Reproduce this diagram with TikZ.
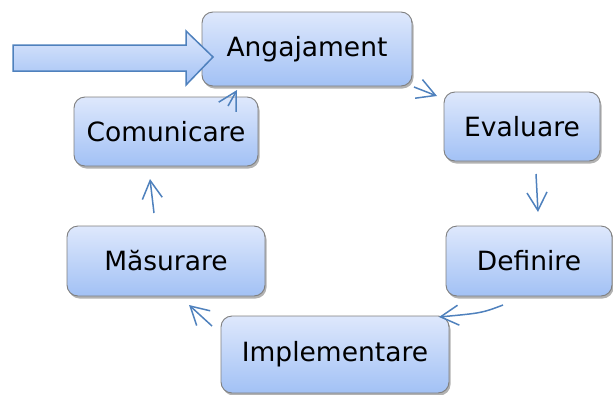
\documentclass[tikz,border=0pt]{standalone}
\usepackage{fontspec}
\setmainfont{DejaVu Sans}
\usetikzlibrary{arrows.meta,shadows}
\definecolor{boxtop}{HTML}{DEE8FC}
\definecolor{boxbot}{HTML}{A2C1F5}
\definecolor{boxline}{HTML}{7F7F7F}
\definecolor{flow}{HTML}{4F81BD}
\begin{document}
\begin{tikzpicture}[x=1pt,y=-1pt,
  stepbox/.style={draw=boxline, line width=0.9pt, rounded corners=11pt,
    top color=boxtop, bottom color=boxbot, inner sep=0pt,
    font=\fontsize{26.5}{32}\selectfont,
    drop shadow={shadow xshift=1.5pt, shadow yshift=-2.5pt, opacity=0.3, fill=black}},
  link/.style={draw=flow, line width=1.5pt,
    -{Straight Barb[length=18pt,width=20pt,line width=1.5pt]}}]
  \useasboundingbox (0,0) rectangle (613,394);

  % process steps
  \node[stepbox, minimum width=210, minimum height=74] (ang) at (307,49) {Angajament};
  \node[stepbox, minimum width=156, minimum height=69] (eva) at (522,126.5) {Evaluare};
  \node[stepbox, minimum width=166, minimum height=70] (def) at (529,261) {Definire};
  \node[stepbox, minimum width=228, minimum height=77] (imp) at (335,354.5) {Implementare};
  \node[stepbox, minimum width=198, minimum height=70] (mas) at (166,261) {Măsurare};
  \node[stepbox, minimum width=184, minimum height=69] (com) at (166,131.5) {Comunicare};

  % entry arrow
  \draw[draw=flow, line width=1.5pt, top color=boxtop, bottom color=boxbot]
    (13,45) -- (186,45) -- (186,31) -- (213,57) -- (186,85) -- (186,71) -- (13,71) -- cycle;

  % cycle connectors
  \coordinate (a1) at (414,87);   \coordinate (a2) at (437,96);
  \coordinate (b1) at (536,174);  \coordinate (b2) at (538,212);
  \coordinate (c1) at (503,305);  \coordinate (c2) at (439,317);
  \coordinate (d1) at (212,326);  \coordinate (d2) at (189,305);
  \coordinate (e1) at (154,213);  \coordinate (e2) at (150,179);
  \coordinate (f1) at (228,106);  \coordinate (f2) at (237,90);
  \draw[link] (a1) -- (a2);
  \draw[link] (b1) -- (b2);
  \draw[link] (c1) .. controls (482,313) .. (c2);
  \draw[link] (d1) -- (d2);
  \draw[link] (e1) -- (e2);
  \draw[link] (f1) -- (f2);
\end{tikzpicture}
\end{document}
